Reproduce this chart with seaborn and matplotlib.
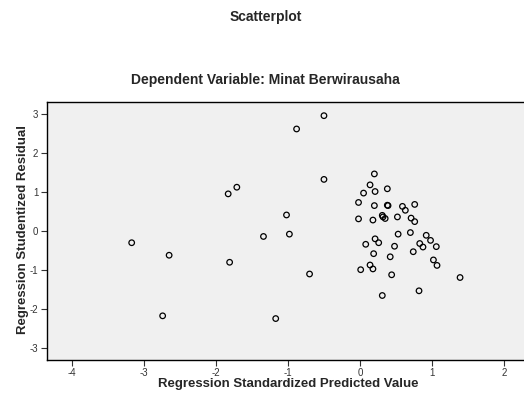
import matplotlib
matplotlib.use("Agg")
import matplotlib.pyplot as plt
import seaborn as sns
import pandas as pd

pred = [-3.17, -2.74, -2.65, -1.83, -1.71, -1.81, -1.34, -1.17, -1.02, -0.98,
        -0.88, -0.70, -0.50, -0.50, -0.02, -0.02, 0.20, 0.14, 0.05, 0.21,
        0.38, 0.20, 0.38, 0.39, 0.59, 0.63, 0.76, 0.18, 0.31, 0.32,
        0.35, 0.52, 0.71, 0.76, 0.53, 0.70, 0.92, 0.98, 1.06, 0.83,
        0.875, 0.08, 0.21, 0.26, 0.48, 0.19, 0.42, 0.74, 1.02, 1.07,
        0.01, 0.14, 0.18, 0.44, 1.39, 0.82, 0.31]
resid = [-0.30, -2.17, -0.62, 0.95, 1.12, -0.80, -0.14, -2.24, 0.41, -0.08,
         2.61, -1.10, 2.95, 1.32, 0.73, 0.31, 1.46, 1.18, 0.97, 1.01,
         1.08, 0.65, 0.66, 0.65, 0.63, 0.53, 0.68, 0.28, 0.40, 0.36,
         0.32, 0.36, 0.33, 0.24, -0.08, -0.04, -0.11, -0.24, -0.40, -0.32,
         -0.41, -0.34, -0.20, -0.30, -0.39, -0.58, -0.66, -0.53, -0.74, -0.88,
         -0.99, -0.87, -0.97, -1.12, -1.19, -1.53, -1.65]
xticks = [-4, -3, -2, -1, 0, 1, 2]
yticks = [-3, -2, -1, 0, 1, 2, 3]

df = pd.DataFrame({"pred": pred, "resid": resid})

sns.set_style("ticks")
plt.rcParams['font.family'] = ['Liberation Sans', 'DejaVu Sans']

fig = plt.figure(figsize=(5.24, 4.01), dpi=100)
ax = fig.add_axes([46.7/524, 1-360/401, (532-46.7)/524, (360-102)/401])
ax.set_facecolor("#F0F0F0")

sns.scatterplot(data=df, x="pred", y="resid", ax=ax, s=16,
                facecolors="none", edgecolor="black", linewidth=0.9, marker="o")

ax.set_xlim(-4.35, (532-360)/72)
ax.set_ylim(-3.3, 3.3)
ax.set_xticks(xticks)
ax.set_yticks(yticks)
ax.set_xticklabels([str(t) for t in xticks])
ax.set_yticklabels([str(t) for t in yticks])
ax.set_xlabel("")
ax.set_ylabel("")
ax.tick_params(axis="both", labelsize=7, labelcolor="#333333", length=4,
               width=0.8, color="#333333", pad=2)
for sp in ax.spines.values():
    sp.set_color("black")
    sp.set_linewidth(1.0)

fig.text(288/524, 1-384/401, "Regression Standardized Predicted Value",
         ha="center", va="center", fontsize=9.5, fontweight="bold")
fig.text(23/524, 1-230/401, "Regression Studentized Residual",
         ha="center", va="center", rotation=90, fontsize=9.5, fontweight="bold")

fig.text(266/524, 1-17/401, "Scatterplot", ha="center", va="center",
         fontsize=10, fontweight="bold")
fig.text(265/524, 1-80/401, "Dependent Variable: Minat Berwirausaha",
         ha="center", va="center", fontsize=10, fontweight="bold")

fig.savefig("out.png", dpi=100, facecolor="white")
